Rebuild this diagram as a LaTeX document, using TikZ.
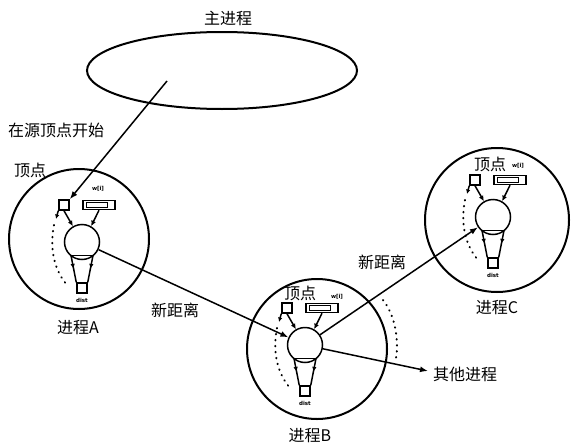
\documentclass[tikz,border=0pt]{standalone}
\usepackage{fontspec}
\newfontfamily\cjk{Noto Sans CJK SC}
\newfontfamily\tinyfam{DejaVu Sans}
\usetikzlibrary{arrows.meta,decorations.markings,shapes.geometric,calc}
\tikzset{
  lbl/.style={font=\cjk\fontsize{16}{18}\selectfont, inner sep=0pt},
  tinylbl/.style={font=\tinyfam\fontsize{5.5}{5.5}\selectfont\bfseries, inner sep=0pt},
  bigc/.style={draw, circle, line width=2pt, inner sep=0pt},
  thin/.style={line width=1.5pt},
  arr/.style={line width=1.5pt, -{Latex[length=8pt,width=6pt]}},
  midarr/.style={postaction={decorate}, decoration={markings, mark=at position 0.5 with {\arrow{Latex[length=5pt,width=4.5pt]}}}},
  dots/.style={line width=2pt, line cap=round, dash pattern=on 0.5pt off 5.5pt},
  inner/.pic={
    \node[draw, circle, minimum size=35, inner sep=0pt, line width=1.5pt] (-circ) at (0,0) {};
    \node[draw, minimum size=10, inner sep=0pt, line width=1.5pt] (-sq) at (-18,-37) {};
    \node[draw, minimum width=32, minimum height=9, inner sep=0pt, line width=1.5pt] (-bar) at (17,-37) {};
    \draw[line width=0.9pt] (4,-39.5) rectangle (25,-34.5);
    \node[draw, minimum size=10, inner sep=0pt, line width=1.5pt] (-bot) at (0,46) {};
    \node[tinylbl] (-dist) at (0,58) {dist};
    \draw[thin, -{Latex[length=5.5pt,width=5pt]}] (-sq.south) -- (-circ.120);
    \draw[thin, -{Latex[length=5.5pt,width=5pt]}] (-bar.south) -- (-circ.60);
    \draw[thin, -{Latex[length=4.5pt,width=4.5pt]}] (-sq.south west) -- (-26,-23);
    \draw[thin] (-11,13.5) -- (11,13.5);
    \draw[thin, midarr] (-11,13.5) -- (-bot.north west);
    \draw[thin, midarr] (11,13.5) -- (-bot.north east);
    \draw[dots] (-28,-17) .. controls (-33,8) and (-27,30) .. (-14,44);
  }
}
\begin{document}
\begin{tikzpicture}[x=1pt,y=-1pt]
\useasboundingbox (0,0) rectangle (575,447);
% main process
\node[draw, ellipse, line width=2pt, minimum width=270, minimum height=77, inner sep=0pt] (main) at (222,70.5) {};
\node[lbl] (mainlbl) at (228,18) {主进程};
% processes
\node[bigc, minimum size=140] (PA) at (79,239) {};
\node[bigc, minimum size=140] (PB) at (317,349) {};
\node[bigc, minimum size=144] (PC) at (497,220) {};
\pic (A) at (82,242) {inner};
\pic (B) at (305,345) {inner};
\pic (C) at (493,217) {inner};
% vertex labels
\node[lbl] (vA) at (30,170) {顶点};
\node[lbl] (vB) at (300,293) {顶点};
\node[lbl] (vC) at (490,164) {顶点};
\node[tinylbl] (wA) at (98,189) {w[i]};
\node[tinylbl] (wB) at (337,297) {w[i]};
\node[tinylbl] (wC) at (518,166) {w[i]};
% process labels
\node[lbl] (lA) at (78,328) {进程A};
\node[lbl] (lB) at (310,436) {进程B};
\node[lbl] (lC) at (497,308) {进程C};
% extra dotted arc near B
\draw[dots] (383,300) .. controls (395,315) and (399,340) .. (396,358);
% connectors
\coordinate (src) at (167,81);
\draw[arr] (src) -- (A-sq.north east);
\node[lbl, anchor=west] (start) at (8,130) {在源顶点开始};
\draw[arr] (A-circ) -- (B-circ);
\node[lbl] (nd1) at (175,310) {新距离};
\draw[arr] (B-circ) -- (C-circ);
\node[lbl] (nd2) at (382,262) {新距离};
\coordinate (oth) at (428,371);
\draw[arr] (B-circ) -- (oth);
\node[lbl, anchor=west] (othlbl) at (433,374) {其他进程};
\end{tikzpicture}
\end{document}
